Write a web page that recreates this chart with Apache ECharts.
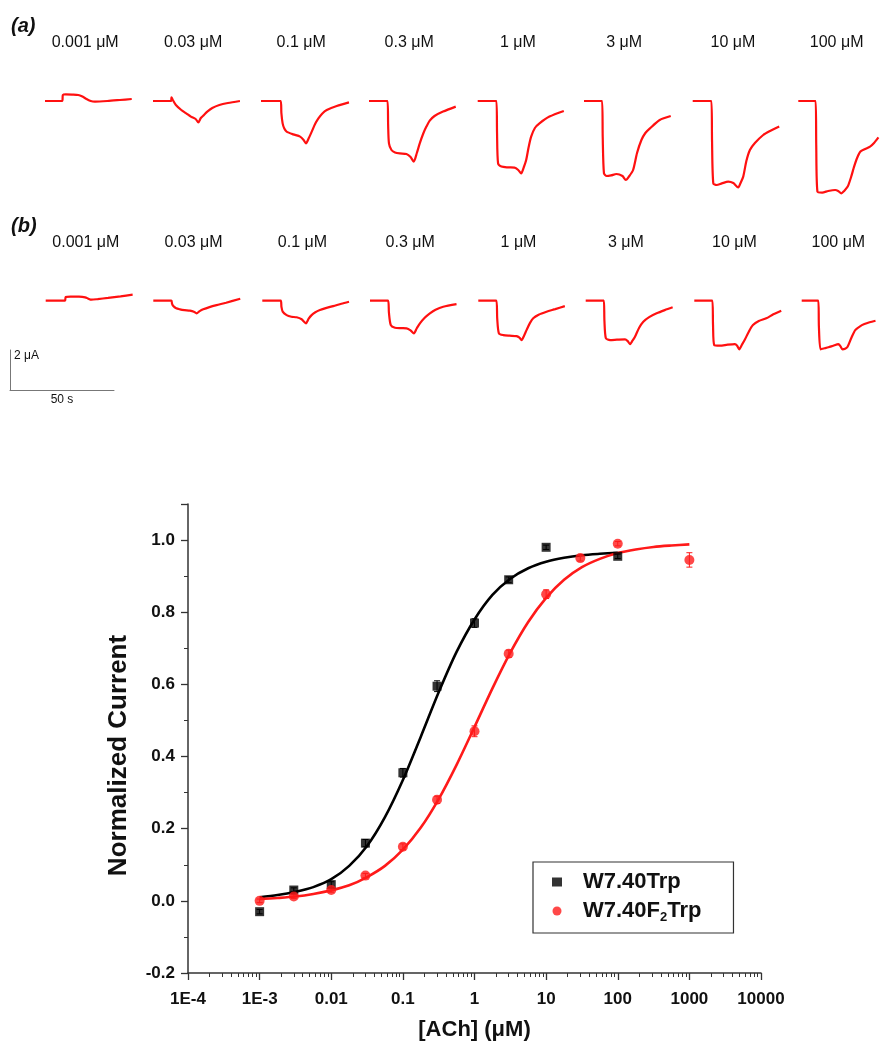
<!DOCTYPE html>
<html>
<head>
<meta charset="utf-8">
<script src="https://cdn.jsdelivr.net/npm/echarts@6/dist/echarts.min.js"></script>
<style>
html,body{margin:0;padding:0;background:#fff;}
#chart{width:882px;height:1048px;}
</style>
</head>
<body>
<div id="chart"></div>
<script>
// ---------- DATA ----------
const concLabels = ['0.001 μM','0.03 μM','0.1 μM','0.3 μM','1 μM','3 μM','10 μM','100 μM'];

// Current traces, [time (s), current (μA)], row (a)
const tracesA = [
  [[0,0],[8.3,0],[8.6,0.3],[10,0.33],[13,0.32],[16,0.3],[18,0.22],[20,0.1],[22,0],[24,-0.03],[30,0],[36,0.05],[41.7,0.1]],
  [[0,0],[8.6,0],[8.9,0.18],[9.5,0.05],[11,-0.2],[13.6,-0.45],[16,-0.62],[18.2,-0.78],[20.5,-0.9],[21.8,-1.07],[23,-0.85],[24.5,-0.7],[26.1,-0.53],[28.5,-0.35],[31.9,-0.2],[36,-0.1],[41.8,0]],
  [[0,0],[9.5,0],[9.8,-0.6],[10.4,-1.12],[11.2,-1.38],[12.3,-1.53],[15.5,-1.67],[18.8,-1.78],[20.5,-1.95],[21.6,-2.12],[23,-1.85],[24.4,-1.53],[26,-1.15],[27.6,-0.87],[29.5,-0.62],[31.6,-0.45],[36.4,-0.25],[42.3,-0.07]],
  [[0,0],[8.9,0],[9.2,-1.2],[9.6,-2.12],[10.8,-2.45],[12.5,-2.57],[14.8,-2.62],[18,-2.65],[20,-2.8],[21.5,-3.03],[23,-2.6],[24.4,-2.12],[26,-1.65],[27.6,-1.28],[29.2,-0.98],[31.5,-0.75],[35.6,-0.53],[41.7,-0.28]],
  [[0,0],[9,0],[9.3,-1.6],[9.8,-3.12],[11.4,-3.28],[14.5,-3.32],[17.7,-3.33],[19.5,-3.45],[20.9,-3.62],[22.2,-3.3],[23.3,-2.95],[24.5,-2.3],[25.7,-1.78],[27.5,-1.35],[29.7,-1.12],[34.5,-0.78],[41.4,-0.5]],
  [[0,0],[8.7,0],[9,-1.8],[9.6,-3.62],[10.9,-3.75],[13,-3.72],[15.6,-3.65],[18.5,-3.75],[20.1,-3.95],[21.8,-3.75],[23.6,-3.45],[25.5,-2.6],[27.6,-1.95],[29.5,-1.6],[31.7,-1.37],[36.4,-0.95],[41.7,-0.75]],
  [[0,0],[9,0],[9.3,-2],[9.9,-4.12],[11.5,-4.2],[14,-4.12],[17.1,-4.03],[19.5,-4.1],[21.9,-4.32],[23,-4.1],[24.3,-3.78],[25.8,-3.0],[27.5,-2.45],[29.9,-2.1],[33.9,-1.7],[37.2,-1.5],[41.6,-1.28]],
  [[0,0],[8.7,0],[9,-2.2],[9.6,-4.53],[12,-4.58],[15,-4.5],[18.5,-4.45],[20,-4.5],[21.6,-4.62],[23,-4.5],[24.8,-4.28],[26.5,-3.8],[28,-3.28],[29.5,-2.85],[31.2,-2.53],[33.5,-2.4],[36,-2.28],[38,-2.1],[40.2,-1.82]]
];
// row (b)
const tracesB = [
  [[0,0],[9.3,0],[9.6,0.18],[12,0.2],[16,0.2],[19,0.17],[20.5,0.1],[22,0.05],[25,0.08],[30,0.14],[36,0.22],[41.8,0.3]],
  [[0,0],[8.7,0],[9,-0.15],[9.6,-0.27],[11,-0.38],[12.8,-0.43],[15,-0.47],[17.6,-0.5],[19.5,-0.55],[20.8,-0.63],[22.3,-0.52],[24,-0.43],[27,-0.32],[30.4,-0.22],[35,-0.1],[41.8,0.1]],
  [[0,0],[8.9,0],[9.2,-0.3],[9.8,-0.55],[11.7,-0.72],[14,-0.8],[16.5,-0.83],[18.9,-0.93],[21,-1.13],[22.3,-0.9],[23.7,-0.72],[25.5,-0.58],[27.7,-0.47],[30.5,-0.37],[34.1,-0.27],[38,-0.15],[41.7,-0.05]],
  [[0,0],[8.7,0],[9.1,-0.6],[10,-1.22],[12,-1.35],[15,-1.37],[17.6,-1.38],[19.5,-1.48],[21.1,-1.63],[22.5,-1.38],[24,-1.13],[26.3,-0.85],[28.8,-0.63],[31.5,-0.45],[35.2,-0.3],[41.6,-0.17]],
  [[0,0],[8.7,0],[9.1,-0.9],[9.9,-1.63],[12,-1.72],[15,-1.75],[18.4,-1.77],[19.8,-1.85],[20.8,-1.97],[22,-1.75],[23.2,-1.47],[24.8,-1.12],[26.4,-0.88],[29,-0.7],[32.8,-0.55],[37,-0.42],[41.6,-0.27]],
  [[0,0],[8.7,0],[9,-1.0],[9.7,-1.88],[11.7,-1.97],[15,-1.95],[18.9,-1.93],[20.2,-2.02],[21.3,-2.17],[22.5,-2.0],[23.7,-1.8],[25.7,-1.35],[27.7,-1.05],[30.5,-0.82],[34.1,-0.63],[38,-0.47],[41.8,-0.33]],
  [[0,0],[8.7,0],[9,-1.2],[9.6,-2.22],[12.3,-2.25],[16,-2.2],[19.5,-2.17],[20.6,-2.25],[21.6,-2.43],[22.9,-2.2],[24.2,-1.97],[26.2,-1.55],[28.2,-1.22],[31,-1.02],[34.6,-0.88],[38,-0.68],[41.8,-0.5]],
  [[0,0],[8.7,0],[9,-1.3],[9.9,-2.43],[12,-2.38],[14,-2.33],[16.5,-2.25],[19.2,-2.17],[20.3,-2.28],[21.3,-2.43],[22.7,-2.4],[24,-2.3],[26,-1.85],[28,-1.47],[30.5,-1.28],[32.8,-1.17],[35.5,-1.08],[38.6,-1.0]]
];

// Dose-response data
const concTrp = [0.001,0.003,0.01,0.03,0.1,0.3,1,3,10,100];
const respTrp = [-0.03,0.03,0.045,0.16,0.355,0.595,0.77,0.89,0.98,0.955];
const errTrp  = [0.006,0.006,0.008,0.01,0.012,0.015,0.012,0.008,0.006,0.006];
const concF2 = [0.001,0.003,0.01,0.03,0.1,0.3,1,3,10,30,100,1000];
const respF2 = [0.0,0.012,0.03,0.07,0.15,0.28,0.47,0.685,0.85,0.95,0.99,0.945];
const errF2  = [0.005,0.005,0.006,0.006,0.008,0.01,0.015,0.01,0.012,0.008,0.006,0.02];

// Fitted curves (quarter-decade readings)
const fitTrpX = [0.001,0.00178,0.00316,0.00562,0.01,0.0178,0.0316,0.0562,0.1,0.178,0.316,0.562,1,1.78,3.16,5.62,10,17.8,31.6,56.2,100];
const fitTrpY = [0.01,0.016,0.025,0.038,0.06,0.097,0.152,0.232,0.335,0.455,0.578,0.69,0.78,0.848,0.893,0.922,0.94,0.951,0.958,0.962,0.965];
const fitF2X = [0.001,0.00178,0.00316,0.00562,0.01,0.0178,0.0316,0.0562,0.1,0.178,0.316,0.562,1,1.78,3.16,5.62,10,17.8,31.6,56.2,100,178,316,562,1000];
const fitF2Y = [0.005,0.008,0.012,0.019,0.029,0.043,0.066,0.097,0.142,0.203,0.282,0.377,0.482,0.589,0.688,0.773,0.84,0.89,0.925,0.948,0.964,0.974,0.981,0.985,0.988];

const xTickLabels = ['1E-4','1E-3','0.01','0.1','1','10','100','1000','10000'];

// ---------- LAYOUT ----------
const FONT = '"Liberation Sans", Arial, Helvetica, sans-serif';
const TXT = '#111';
const traceLeftA = [45,153,261,369,477.7,584,692.7,798.3];
const traceLeftB = [45.7,153.3,262.3,370,478.3,585.7,694.3,801.7];
const pxPerSec = 2.08, pxPerUA = 20;
const tMax = 42, uaMin = -5, uaMax = 1;
const traceW = tMax * pxPerSec, traceH = (uaMax - uaMin) * pxPerUA;
const baseA = 101, baseB = 300.7;

const grids = [], xAxes = [], yAxes = [], series = [];

function addTrace(left, baseY, label, data) {
  const gi = grids.length;
  grids.push({left: left, top: baseY - uaMax * pxPerUA, width: traceW, height: traceH});
  xAxes.push({
    gridIndex: gi, type: 'value', min: 0, max: tMax, position: 'top',
    axisLine: {show: false}, axisTick: {show: false}, axisLabel: {show: false}, splitLine: {show: false},
    name: label, nameLocation: 'middle', nameGap: 30,
    nameTextStyle: {fontFamily: FONT, fontSize: 16, color: TXT, padding: [0, 7, 0, 0]}
  });
  yAxes.push({gridIndex: gi, type: 'value', min: uaMin, max: uaMax, show: false});
  series.push({
    type: 'line', xAxisIndex: gi, yAxisIndex: gi, data: data, showSymbol: false,
    smooth: 0.25, lineStyle: {color: '#ff1010', width: 2.2}, silent: true
  });
}
tracesA.forEach((d, i) => addTrace(traceLeftA[i], baseA, concLabels[i], d));
tracesB.forEach((d, i) => addTrace(traceLeftB[i], baseB, concLabels[i], d));

// scale bar (50 s x 2 μA) drawn as an axis pair with the same scale
const sbIndex = grids.length;
grids.push({left: 10, top: 350, width: 50 * pxPerSec, height: 2 * pxPerUA});
xAxes.push({
  gridIndex: sbIndex, type: 'value', min: 0, max: 50,
  axisLine: {show: true, lineStyle: {color: '#777', width: 1}}, axisTick: {show: false},
  axisLabel: {show: false}, splitLine: {show: false},
  name: '50 s', nameLocation: 'middle', nameGap: 4,
  nameTextStyle: {fontFamily: FONT, fontSize: 12, color: TXT}
});
yAxes.push({
  gridIndex: sbIndex, type: 'value', min: 0, max: 2,
  axisLine: {show: true, lineStyle: {color: '#777', width: 1}}, axisTick: {show: false},
  axisLabel: {show: false}, splitLine: {show: false}
});

// main dose-response plot
const mi = grids.length;
grids.push({left: 188, top: 504, width: 573, height: 469});
xAxes.push({
  gridIndex: mi, type: 'log', logBase: 10, min: 0.0001, max: 10000, splitNumber: 8,
  axisLine: {show: true, onZero: false, lineStyle: {color: '#333', width: 1.5}},
  axisTick: {show: true, length: 7, lineStyle: {color: '#333', width: 1.3}},
  minorTick: {show: true, splitNumber: 9, length: 4, lineStyle: {color: '#333', width: 1}},
  splitLine: {show: false}, minorSplitLine: {show: false},
  axisLabel: {
    margin: 18, fontFamily: FONT, fontSize: 17, fontWeight: 'bold', color: TXT,
    formatter: v => xTickLabels[Math.round(Math.log10(v)) + 4]
  },
  name: '[ACh] (μM)', nameLocation: 'middle', nameGap: 46,
  nameTextStyle: {fontFamily: FONT, fontSize: 22, fontWeight: 'bold', color: TXT}
});
yAxes.push({
  gridIndex: mi, type: 'value', min: -0.2, max: 1.1, interval: 0.2,
  axisLine: {show: true, onZero: false, lineStyle: {color: '#333', width: 1.5}},
  axisTick: {show: true, length: 7, lineStyle: {color: '#333', width: 1.3}},
  minorTick: {show: true, splitNumber: 2, length: 4, lineStyle: {color: '#333', width: 1}},
  splitLine: {show: false},
  axisLabel: {
    margin: 13, fontFamily: FONT, fontSize: 17, fontWeight: 'bold', color: TXT, showMaxLabel: false,
    formatter: v => v.toFixed(1)
  },
  name: 'Normalized Current', nameLocation: 'middle', nameGap: 56,
  nameTextStyle: {fontFamily: FONT, fontSize: 26, fontWeight: 'bold', color: TXT, padding: [0, 34, 0, 0]}
});

function zip(xs, ys) { return xs.map((x, i) => [x, ys[i]]); }

series.push({
  name: 'fitTrp', type: 'line', xAxisIndex: mi, yAxisIndex: mi, data: zip(fitTrpX, fitTrpY),
  smooth: 0.3, showSymbol: false, lineStyle: {color: '#000', width: 2.6}, z: 2, silent: true
});
series.push({
  name: 'fitF2', type: 'line', xAxisIndex: mi, yAxisIndex: mi, data: zip(fitF2X, fitF2Y),
  smooth: 0.3, showSymbol: false, lineStyle: {color: '#ff1a1a', width: 2.6}, z: 2, silent: true
});

function errSeries(xs, ys, es, color) {
  return {
    type: 'custom', xAxisIndex: mi, yAxisIndex: mi, z: 3, silent: true,
    data: xs.map((x, i) => [x, ys[i], es[i]]),
    renderItem: function (params, api) {
      const x = api.value(0), y = api.value(1), e = api.value(2);
      const lo = api.coord([x, y - e]), hi = api.coord([x, y + e]);
      const st = {stroke: color, lineWidth: 1};
      return {type: 'group', children: [
        {type: 'line', shape: {x1: lo[0], y1: lo[1], x2: hi[0], y2: hi[1]}, style: st},
        {type: 'line', shape: {x1: lo[0] - 3, y1: lo[1], x2: lo[0] + 3, y2: lo[1]}, style: st},
        {type: 'line', shape: {x1: hi[0] - 3, y1: hi[1], x2: hi[0] + 3, y2: hi[1]}, style: st}
      ]};
    }
  };
}
series.push(errSeries(concTrp, respTrp, errTrp, '#000'));
series.push(errSeries(concF2, respF2, errF2, '#ff1a1a'));

series.push({
  name: 'W7.40Trp', type: 'scatter', xAxisIndex: mi, yAxisIndex: mi, data: zip(concTrp, respTrp),
  symbol: 'rect', symbolSize: 9, itemStyle: {color: '#000'}, z: 4
});
series.push({
  name: 'W7.40F2Trp', type: 'scatter', xAxisIndex: mi, yAxisIndex: mi, data: zip(concF2, respF2),
  symbol: 'circle', symbolSize: 10, itemStyle: {color: '#ff1a1a'}, z: 4
});

const chart = echarts.init(document.getElementById('chart'), null, {renderer: 'canvas'});
chart.setOption({
  animation: false,
  backgroundColor: '#fff',
  grid: grids,
  xAxis: xAxes,
  yAxis: yAxes,
  legend: {
    data: ['W7.40Trp', 'W7.40F2Trp'],
    orient: 'vertical', left: 533, top: 862,
    padding: [9, 32, 9, 19],
    itemWidth: 10, itemHeight: 9, itemGap: 7,
    borderColor: '#333', borderWidth: 1.2, borderRadius: 0,
    selectedMode: false,
    formatter: function (name) {
      return name === 'W7.40F2Trp' ? '{g|}{t|W7.40F}{s|2}{t|Trp}' : '{g|}{t|W7.40Trp}';
    },
    textStyle: {
      rich: {
        g: {width: 16},
        t: {fontFamily: FONT, fontSize: 22, fontWeight: 'bold', color: TXT, lineHeight: 22},
        s: {fontFamily: FONT, fontSize: 13, fontWeight: 'bold', color: TXT, lineHeight: 13, padding: [11, 0, 0, 0], verticalAlign: 'top'}
      }
    }
  },
  graphic: [
    {type: 'text', left: 11, top: 16, style: {text: '(a)', font: 'italic bold 20px ' + FONT, fill: TXT}},
    {type: 'text', left: 11, top: 216, style: {text: '(b)', font: 'italic bold 20px ' + FONT, fill: TXT}},
    {type: 'text', left: 14, top: 350, style: {text: '2 μA', font: '12px ' + FONT, fill: TXT}}
  ],
  series: series
});
</script>
</body>
</html>
